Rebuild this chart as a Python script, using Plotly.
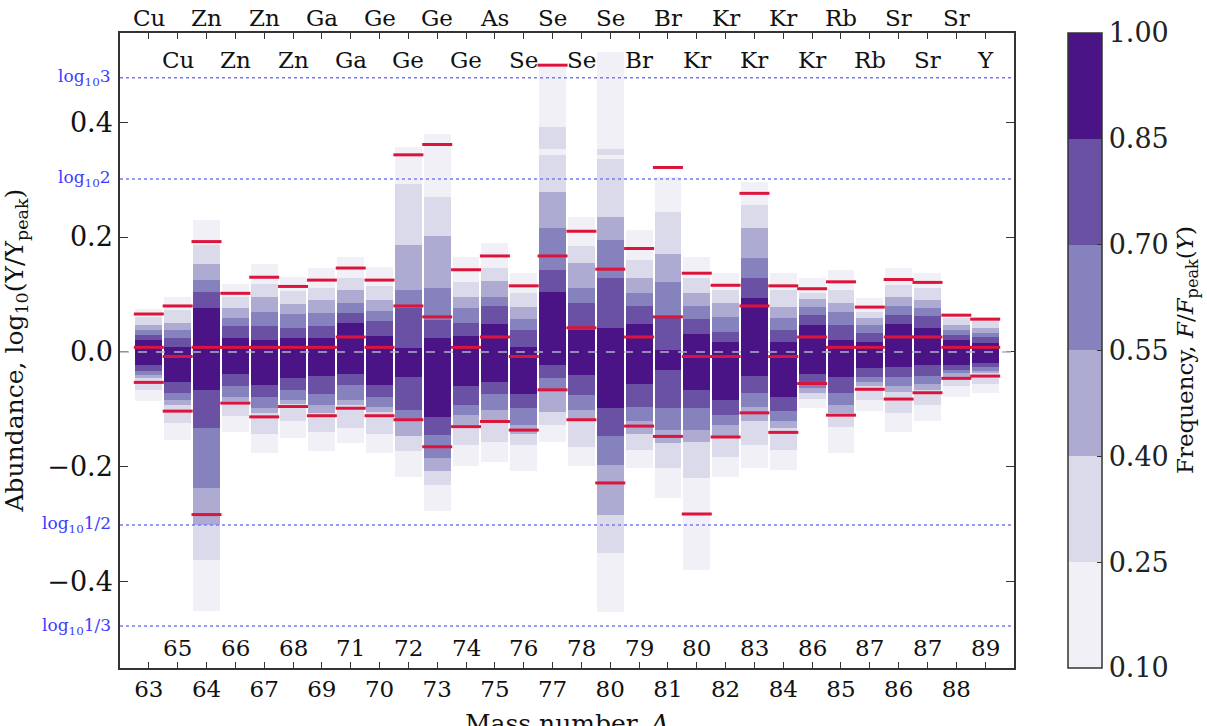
import numpy as np
import plotly.graph_objects as go

# Isotopes (ordered as plotted)
elements = ["Cu", "Cu", "Zn", "Zn", "Zn", "Zn", "Ga", "Ga", "Ge", "Ge",
            "Ge", "Ge", "As", "Se", "Se", "Se", "Se", "Br", "Br", "Kr",
            "Kr", "Kr", "Kr", "Kr", "Rb", "Rb", "Sr", "Sr", "Sr", "Y"]
mass_numbers = [63, 65, 64, 66, 67, 68, 69, 71, 70, 72,
                73, 74, 75, 76, 77, 78, 80, 79, 81, 80,
                82, 83, 84, 86, 85, 87, 86, 87, 88, 89]

# Frequency bands: extent of log10(Y/Ypeak) where F/Fpeak exceeds each level
f10_hi = [0.075, 0.096, 0.230, 0.118, 0.153, 0.131, 0.146, 0.166, 0.148, 0.357,
          0.379, 0.166, 0.190, 0.138, 0.496, 0.235, 0.522, 0.212, 0.305, 0.166,
          0.138, 0.296, 0.138, 0.128, 0.143, 0.093, 0.146, 0.138, 0.066, 0.060]
f10_lo = [-0.086, -0.153, -0.450, -0.140, -0.175, -0.150, -0.172, -0.159, -0.175, -0.218,
          -0.276, -0.199, -0.191, -0.208, -0.157, -0.199, -0.452, -0.202, -0.255, -0.379,
          -0.218, -0.202, -0.205, -0.098, -0.176, -0.102, -0.140, -0.121, -0.078, -0.071]
f25_hi = [0.061, 0.073, 0.186, 0.096, 0.119, 0.106, 0.111, 0.128, 0.114, 0.293,
          0.270, 0.121, 0.146, 0.102, 0.343, 0.184, 0.335, 0.160, 0.244, 0.128,
          0.108, 0.256, 0.108, 0.102, 0.107, 0.070, 0.117, 0.111, 0.059, 0.053]
f25_lo = [-0.066, -0.124, -0.362, -0.112, -0.143, -0.121, -0.139, -0.133, -0.142, -0.173,
          -0.231, -0.162, -0.156, -0.162, -0.128, -0.165, -0.350, -0.170, -0.202, -0.220,
          -0.182, -0.162, -0.170, -0.082, -0.131, -0.083, -0.106, -0.092, -0.060, -0.055]
f40_hi = [0.047, 0.051, 0.153, 0.076, 0.096, 0.084, 0.090, 0.107, 0.090, 0.186,
          0.201, 0.096, 0.124, 0.079, 0.279, 0.154, 0.235, 0.128, 0.170, 0.103,
          0.086, 0.215, 0.079, 0.092, 0.086, 0.059, 0.096, 0.090, 0.047, 0.041]
f40_lo = [-0.046, -0.092, -0.301, -0.086, -0.107, -0.091, -0.106, -0.092, -0.104, -0.147,
          -0.208, -0.127, -0.118, -0.143, -0.104, -0.118, -0.283, -0.142, -0.159, -0.156,
          -0.147, -0.121, -0.133, -0.071, -0.106, -0.060, -0.069, -0.066, -0.043, -0.037]
f55_hi = [0.038, 0.038, 0.125, 0.059, 0.070, 0.066, 0.067, 0.086, 0.072, 0.108,
          0.111, 0.076, 0.096, 0.057, 0.215, 0.111, 0.195, 0.103, 0.121, 0.080,
          0.061, 0.164, 0.059, 0.079, 0.070, 0.047, 0.080, 0.076, 0.038, 0.033]
f55_lo = [-0.040, -0.083, -0.237, -0.078, -0.098, -0.083, -0.092, -0.083, -0.095, -0.121,
          -0.185, -0.110, -0.101, -0.127, -0.066, -0.101, -0.197, -0.121, -0.136, -0.136,
          -0.127, -0.095, -0.121, -0.063, -0.092, -0.053, -0.060, -0.055, -0.037, -0.034]
f70_hi = [0.030, 0.024, 0.104, 0.045, 0.045, 0.042, 0.045, 0.068, 0.053, 0.076,
          0.056, 0.051, 0.080, 0.038, 0.143, 0.086, 0.128, 0.080, 0.061, 0.057,
          0.035, 0.128, 0.038, 0.064, 0.047, 0.033, 0.064, 0.063, 0.030, 0.026]
f70_lo = [-0.034, -0.071, -0.133, -0.060, -0.078, -0.067, -0.073, -0.057, -0.078, -0.101,
          -0.144, -0.092, -0.074, -0.098, -0.046, -0.075, -0.147, -0.095, -0.098, -0.098,
          -0.110, -0.072, -0.102, -0.055, -0.071, -0.043, -0.044, -0.042, -0.031, -0.027]
f85_hi = [0.021, 0.009, 0.076, 0.024, 0.021, 0.024, 0.024, 0.051, 0.028, 0.007,
          0.024, 0.028, 0.049, 0.009, 0.105, 0.038, 0.041, 0.049, 0.004, 0.031,
          0.018, 0.093, 0.018, 0.047, 0.021, 0.018, 0.049, 0.042, 0.021, 0.015]
f85_lo = [-0.023, -0.053, -0.067, -0.039, -0.057, -0.046, -0.042, -0.039, -0.057, -0.043,
          -0.113, -0.060, -0.053, -0.074, -0.023, -0.040, -0.098, -0.056, -0.031, -0.066,
          -0.083, -0.042, -0.078, -0.039, -0.043, -0.028, -0.026, -0.023, -0.023, -0.019]

# Detached patches of the 0.25 level in the upper tails
island_col = [14, 16]
island_lo = [0.354, 0.343]
island_hi = [0.392, 0.354]

# Reference abundances (red markers); None where absent
red_hi = [0.066, 0.080, 0.192, 0.102, 0.130, 0.114, 0.125, 0.146, 0.125, 0.343,
          0.361, 0.143, 0.167, 0.115, 0.499, 0.210, 0.144, 0.180, 0.321, 0.137,
          0.116, 0.276, 0.115, 0.110, 0.122, 0.078, 0.126, 0.121, 0.064, 0.057]
red_mid = [0.008, -0.008, 0.008, 0.008, 0.008, 0.008, 0.008, 0.026, 0.008, 0.080,
           0.061, 0.008, 0.026, -0.008, 0.167, 0.042, None, 0.026, 0.061, -0.008,
           -0.008, 0.080, -0.008, 0.026, 0.008, 0.008, 0.026, 0.026, 0.008, 0.008]
red_lo = [-0.053, -0.103, -0.283, -0.089, -0.113, -0.095, -0.111, -0.098, -0.111, -0.118,
          -0.165, -0.130, -0.121, -0.136, -0.066, -0.118, -0.228, -0.129, -0.147, -0.282,
          -0.148, -0.106, -0.140, -0.055, -0.110, -0.065, -0.082, -0.071, -0.046, -0.042]

levels = [0.10, 0.25, 0.40, 0.55, 0.70, 0.85, 1.00]
colors = ["#f2f0f7", "#dadaeb", "#adabd2", "#8582bd", "#6a51a3", "#4a1486"]
ref_lines = [(np.log10(3), "log<sub>10</sub>3"), (np.log10(2), "log<sub>10</sub>2"),
             (np.log10(1 / 2), "log<sub>10</sub>1/2"), (np.log10(1 / 3), "log<sub>10</sub>1/3")]

FONT = "DejaVu Serif"
INK = "#111111"
n = len(mass_numbers)
idx = np.arange(n)
even = idx[idx % 2 == 0]
odd = idx[idx % 2 == 1]
bar_w = 0.93

fig = go.Figure()

bands = [(f10_lo, f10_hi), (f25_lo, f25_hi), (f40_lo, f40_hi),
         (f55_lo, f55_hi), (f70_lo, f70_hi), (f85_lo, f85_hi)]
for k, (lo, hi) in enumerate(bands):
    lo = np.array(lo)
    hi = np.array(hi)
    fig.add_trace(go.Bar(x=idx, y=hi - lo, base=lo, width=bar_w,
                         marker=dict(color=colors[k], line=dict(width=0)),
                         hoverinfo="skip", showlegend=False))
    if k == 1:
        fig.add_trace(go.Bar(x=island_col, y=np.array(island_hi) - np.array(island_lo),
                             base=island_lo, width=bar_w,
                             marker=dict(color=colors[1], line=dict(width=0)),
                             hoverinfo="skip", showlegend=False))

# Red reference markers
rx, ry = [], []
for series in (red_hi, red_mid, red_lo):
    for i, v in enumerate(series):
        if v is None:
            continue
        rx += [i - 0.52, i + 0.52, None]
        ry += [v, v, None]
fig.add_trace(go.Scatter(x=rx, y=ry, mode="lines",
                         line=dict(color="#dc143c", width=3),
                         hoverinfo="skip", showlegend=False))

# Discrete colour bar
cscale = []
for k, c in enumerate(colors):
    cscale += [[k / len(colors), c], [(k + 1) / len(colors), c]]
fig.add_trace(go.Scatter(
    x=[-5], y=[0], mode="markers", hoverinfo="skip", showlegend=False,
    marker=dict(size=1, color=[0.5], colorscale=cscale, cmin=levels[0], cmax=levels[-1],
                showscale=True,
                colorbar=dict(thickness=34, len=1, lenmode="fraction", y=0.5, yanchor="middle",
                              x=1.0604, xanchor="left", xpad=0, ypad=0,
                              outlinewidth=1.5, outlinecolor="#333333",
                              tickvals=levels, ticktext=[f"{v:.2f}" for v in levels],
                              ticks="inside", ticklen=5, tickcolor="#333333",
                              tickfont=dict(family=FONT, size=27, color="#222222")))))

shapes = []
# zero line
shapes.append(dict(type="line", xref="paper", yref="y", x0=0, x1=1, y0=0, y1=0,
                   line=dict(color="#b0b0c4", width=1.5, dash="dash"), layer="above"))
annotations = []
for val, label in ref_lines:
    shapes.append(dict(type="line", xref="paper", yref="y", x0=0, x1=1, y0=val, y1=val,
                       line=dict(color="#7878ff", width=1.5, dash="dot"), layer="above"))
    annotations.append(dict(x=-0.008, xref="paper", y=val, yref="y", text=label,
                            showarrow=False, xanchor="right", yanchor="middle",
                            font=dict(family=FONT, size=17, color="#3c3cff")))

# element symbols (top) and inner mass-number row (bottom)
for i in range(n):
    if i % 2 == 0:
        annotations.append(dict(x=i, xref="x", y=1.0236, yref="paper", text=elements[i],
                                showarrow=False, yanchor="middle",
                                font=dict(family=FONT, size=23, color=INK)))
    else:
        annotations.append(dict(x=i, xref="x", y=0.9575, yref="paper", text=elements[i],
                                showarrow=False, yanchor="middle",
                                font=dict(family=FONT, size=23, color=INK)))
        annotations.append(dict(x=i, xref="x", y=0.0315, yref="paper", text=str(mass_numbers[i]),
                                showarrow=False, yanchor="middle",
                                font=dict(family=FONT, size=23, color=INK)))

# axis titles
annotations.append(dict(x=0.5, xref="paper", y=-0.087, yref="paper",
                        text="Mass number, <i>A</i>", showarrow=False,
                        xanchor="center", yanchor="middle",
                        font=dict(family=FONT, size=25, color=INK)))
annotations.append(dict(x=-0.1174, xref="paper", y=0.5, yref="paper",
                        text="Abundance, log<sub>10</sub>(Y/Y<sub>peak</sub>)", showarrow=False,
                        textangle=-90, xanchor="center", yanchor="middle",
                        font=dict(family=FONT, size=25, color=INK)))
annotations.append(dict(x=1.193, xref="paper", y=0.5, yref="paper",
                        text="Frequency, <i>F</i>/<i>F</i><sub>peak</sub>(<i>Y</i>)", showarrow=False,
                        textangle=-90, xanchor="center", yanchor="middle",
                        font=dict(family=FONT, size=23, color=INK)))

fig.update_layout(
    width=1207, height=726,
    margin=dict(l=120, r=193, t=33, b=58),
    paper_bgcolor="white", plot_bgcolor="white",
    barmode="overlay", bargap=0,
    shapes=shapes, annotations=annotations,
    font=dict(family=FONT, color=INK),
    xaxis=dict(range=[-1, n], tickmode="array", tickvals=list(even),
               ticktext=[str(mass_numbers[i]) for i in even],
               ticks="inside", ticklen=6, tickcolor="#333333", mirror="allticks",
               minor=dict(tickmode="array", tickvals=list(odd), ticks="inside",
                          ticklen=6, tickcolor="#333333", showgrid=False),
               showline=True, linecolor="#333333", linewidth=1.5, showgrid=False,
               zeroline=False, tickfont=dict(family=FONT, size=23, color=INK)),
    yaxis=dict(range=[-0.550, 0.555], tickmode="array", tickvals=[-0.4, -0.2, 0.0, 0.2, 0.4],
               tickformat=".1f", ticks="inside", ticklen=8, tickcolor="#333333",
               mirror="allticks", showline=True, linecolor="#333333", linewidth=1.5,
               showgrid=False, zeroline=False,
               tickfont=dict(family=FONT, size=27, color=INK)),
)

fig.write_html("out.html")
